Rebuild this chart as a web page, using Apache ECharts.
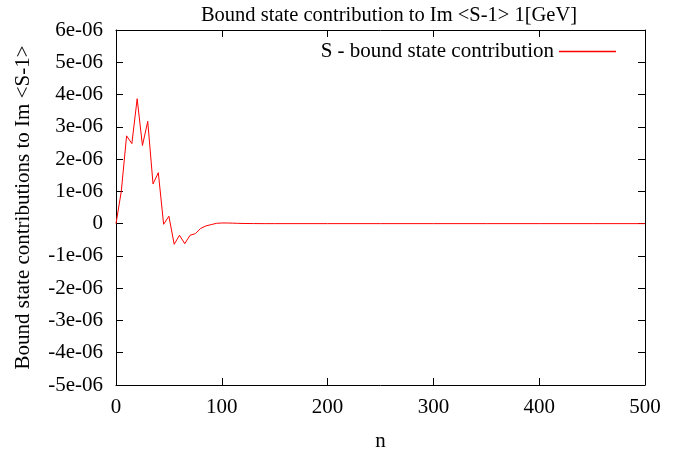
<!DOCTYPE html>
<html><head><meta charset="utf-8">
<script src="https://cdn.jsdelivr.net/npm/echarts@6/dist/echarts.min.js"></script>
<style>html,body{margin:0;padding:0;background:#fff}#c{width:684px;height:456px}</style>
</head><body><div id="c"></div>
<script>
const titleText = 'Bound state contribution to Im <S-1> 1[GeV]';
const xLabel = 'n';
const yLabel = 'Bound state contributions to Im <S-1>';
const seriesName = 'S - bound state contribution';
const nValues = [0,5,10,15,20,25,30,35,40,45,50,55,60,65,70,75,80,85,90,95,100,105,110,115,120,130,140,150,200,250,300,350,400,450,500];
const sValues = [0,1.0e-6,2.72e-6,2.48e-6,3.87e-6,2.42e-6,3.17e-6,1.23e-6,1.58e-6,-0.02e-6,0.23e-6,-0.64e-6,-0.36e-6,-0.62e-6,-0.36e-6,-0.31e-6,-0.15e-6,-0.07e-6,-0.03e-6,0.01e-6,0.02e-6,0.02e-6,0.015e-6,0.01e-6,0.005e-6,0.002e-6,0,0,0,0,0,0,0,0,0];

const font = 'Liberation Serif';
const fs = 21;
const chart = echarts.init(document.getElementById('c'));
const yfmt = v => { const k = Math.round(v*1e6); return k === 0 ? '0' : k + 'e-06'; };
const axisLine = {show:true, onZero:false, lineStyle:{color:'#000', width:1}};
const tick = {show:true, inside:true, length:7, lineStyle:{color:'#000', width:1}};
chart.setOption({
  animation:false,
  color:['#ff0000'],
  backgroundColor:'#fff',
  title:{text:titleText, left:384, textAlign:'center', top:0, textStyle:{fontFamily:font, fontSize:20.5, fontWeight:'normal', color:'#000'}},
  legend:{data:[{name:seriesName, icon:'rect'}], right:63, top:36, align:'right', itemWidth:57, itemHeight:1.5, itemGap:14,
    textStyle:{fontFamily:font, fontSize:fs, color:'#000'}},
  grid:{left:116, right:39, top:30, bottom:71, containLabel:false, outerBoundsMode:'none'},
  xAxis:[{type:'value', min:0, max:500, interval:100, name:xLabel, nameLocation:'middle', nameGap:46,
    nameTextStyle:{fontFamily:font, fontSize:fs, color:'#000'},
    axisLine:axisLine, axisTick:tick, splitLine:{show:false},
    axisLabel:{fontFamily:font, fontSize:fs, color:'#000', margin:12}},
    {type:'value', position:'top', min:0, max:500, interval:100, axisLine:axisLine, axisTick:tick, axisLabel:{show:false}, splitLine:{show:false}}],
  yAxis:[{type:'value', min:-5e-6, max:6e-6, interval:1e-6, name:yLabel, nameLocation:'middle', nameGap:82,
    nameTextStyle:{fontFamily:font, fontSize:fs, color:'#000'},
    axisLine:axisLine, axisTick:tick, splitLine:{show:false},
    axisLabel:{fontFamily:font, fontSize:fs, color:'#000', margin:13, formatter:yfmt}},
    {type:'value', position:'right', min:-5e-6, max:6e-6, interval:1e-6, axisLine:axisLine, axisTick:tick, axisLabel:{show:false}, splitLine:{show:false}}],
  series:[{name:seriesName, type:'line', symbol:'none', data:nValues.map((n,i)=>[n,sValues[i]]),
    lineStyle:{color:'#ff0000', width:1}, itemStyle:{color:'#ff0000'}}]
});
</script></body></html>
